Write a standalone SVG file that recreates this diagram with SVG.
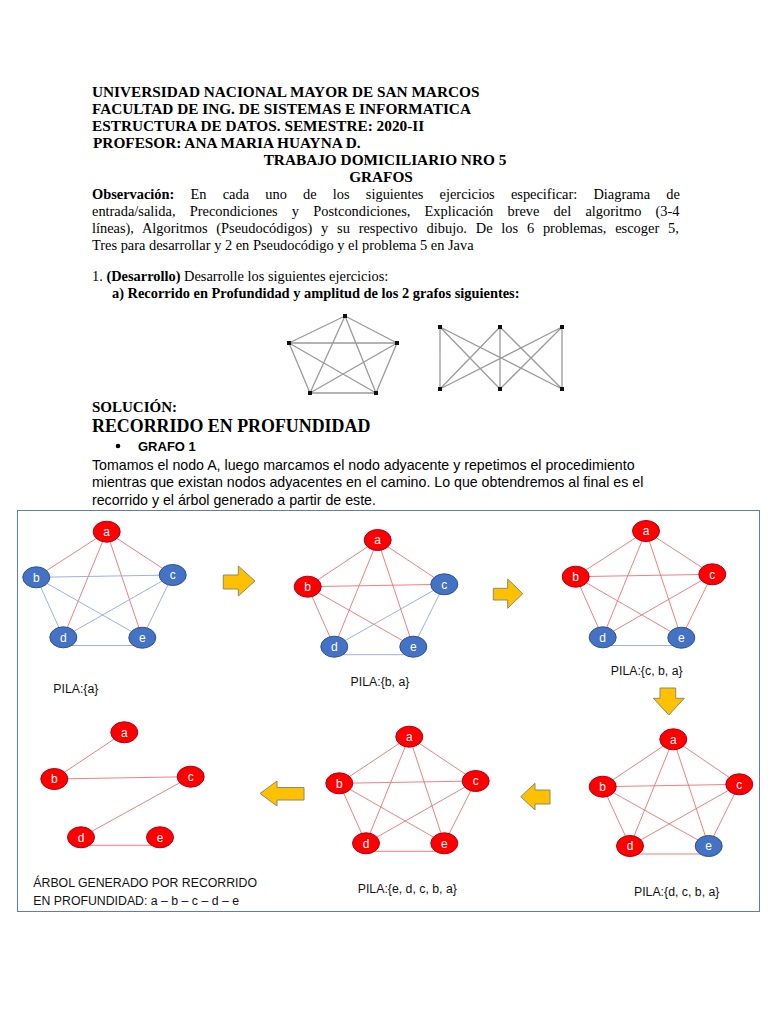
<svg xmlns="http://www.w3.org/2000/svg" width="768" height="1024" viewBox="0 0 768 1024">
<style>
.hd{font-family:"Liberation Serif","Times New Roman",serif;font-weight:bold;font-size:15.3px;fill:#000}
.tx{font-family:"Liberation Serif","Times New Roman",serif;font-size:14.4px;fill:#000}
.sans{font-family:"Liberation Sans",Arial,sans-serif;fill:#000}
.cap{font-family:"Liberation Sans",Arial,sans-serif;font-size:12.3px;fill:#111}
.nr{fill:#ff0000;stroke:#b00018;stroke-width:1}
.nb{fill:#4472c4;stroke:#2f528f;stroke-width:1}
.lbl{font-family:"Liberation Sans",Arial,sans-serif;font-size:12px;fill:#fff;text-anchor:middle}
.er{stroke:#f07070;stroke-width:0.9;fill:none}
.eb{stroke:#8eaadb;stroke-width:0.9;fill:none}
.gs{stroke:#9a9a9a;stroke-width:1.3;fill:none}
.arr{fill:#ffc000;stroke:#8a8a70;stroke-width:1}
</style>
<rect width="768" height="1024" fill="#fff"/>
<!-- header -->
<text class="hd" x="92" y="97">UNIVERSIDAD NACIONAL MAYOR DE SAN MARCOS</text>
<text class="hd" x="92" y="114">FACULTAD DE ING. DE SISTEMAS E INFORMATICA</text>
<text class="hd" x="92" y="131">ESTRUCTURA DE DATOS. SEMESTRE: 2020-II</text>
<text class="hd" x="93" y="148">PROFESOR: ANA MARIA HUAYNA D.</text>
<text class="hd" x="385" y="165" text-anchor="middle">TRABAJO DOMICILIARIO NRO 5</text>
<text class="hd" x="381" y="182" text-anchor="middle">GRAFOS</text>
<text class="tx" x="92" y="199" word-spacing="12.6"><tspan font-weight="bold">Observación:</tspan> En cada uno de los siguientes ejercicios especificar: Diagrama de</text>
<text class="tx" x="92" y="216" word-spacing="10.6">entrada/salida, Precondiciones y Postcondiciones, Explicación breve del algoritmo (3-4</text>
<text class="tx" x="92" y="233" word-spacing="5.2">líneas), Algoritmos (Pseudocódigos) y su respectivo dibujo. De los 6 problemas, escoger 5,</text>
<text class="tx" x="92" y="250">Tres para desarrollar y  2 en Pseudocódigo y el problema 5 en Java</text>
<text class="tx" x="92" y="281">1. <tspan font-weight="bold">(Desarrollo)</tspan> Desarrolle los siguientes ejercicios:</text>
<text class="tx" x="112" y="298" font-weight="bold">a) Recorrido en Profundidad y amplitud de los 2 grafos siguientes:</text>
<!-- small graphs -->
<g id="pentagon">
<path class="gs" d="M345,316L289,343M345,316L397,343M345,316L310,393M345,316L376,393M289,343L397,343M289,343L310,393M289,343L376,393M397,343L310,393M397,343L376,393M310,393L376,393"/>
<g fill="#111"><rect x="343" y="314" width="4" height="4"/><rect x="287" y="341" width="4" height="4"/><rect x="395" y="341" width="4" height="4"/><rect x="308" y="391" width="4" height="4"/><rect x="374" y="391" width="4" height="4"/></g>
</g>
<g id="bipartite">
<path class="gs" d="M440,327L440,389M440,327L500,389M440,327L562,389M500,327L440,389M500,327L500,389M500,327L562,389M562,327L440,389M562,327L500,389M562,327L562,389"/>
<g fill="#111"><rect x="438" y="325" width="4" height="4"/><rect x="498" y="325" width="4" height="4"/><rect x="560" y="325" width="4" height="4"/><rect x="438" y="387" width="4" height="4"/><rect x="498" y="387" width="4" height="4"/><rect x="560" y="387" width="4" height="4"/></g>
</g>
<text class="tx" x="92" y="412" font-weight="bold" style="font-size:15px">SOLUCIÓN:</text>
<text class="tx" x="92" y="432" font-weight="bold" style="font-size:17.9px">RECORRIDO EN PROFUNDIDAD</text>
<circle cx="118" cy="446" r="2.3" fill="#000"/>
<text class="sans" x="138" y="451" font-size="13" font-weight="bold">GRAFO 1</text>
<text class="sans" x="92" y="470" font-size="14.2">Tomamos el nodo A, luego marcamos el nodo adyacente y repetimos el procedimiento</text>
<text class="sans" x="92" y="487" font-size="14.2">mientras que existan nodos adyacentes en el camino. Lo que obtendremos al final es el</text>
<text class="sans" x="92" y="505" font-size="14.2">recorrido y el árbol generado a partir de este.</text>
<!-- frame -->
<rect x="17.5" y="510.5" width="742" height="401" fill="none" stroke="#5a7dbb" stroke-width="1"/>
<!-- connectors -->
<g id="connectors">
<g id="p1-edges">
<line class="er" x1="106.7" y1="531.7" x2="36.3" y2="577.3"/>
<line class="er" x1="106.7" y1="531.7" x2="172.7" y2="575"/>
<line class="er" x1="106.7" y1="531.7" x2="63.3" y2="637.3"/>
<line class="er" x1="106.7" y1="531.7" x2="142.3" y2="637.7"/>
<line class="eb" x1="36.3" y1="577.3" x2="172.7" y2="575"/>
<line class="eb" x1="36.3" y1="577.3" x2="63.3" y2="637.3"/>
<line class="eb" x1="36.3" y1="577.3" x2="142.3" y2="637.7"/>
<line class="eb" x1="172.7" y1="575" x2="63.3" y2="637.3"/>
<line class="eb" x1="172.7" y1="575" x2="142.3" y2="637.7"/>
<line class="eb" x1="69.3" y1="645.5" x2="136.3" y2="645.5"/>
</g>
<g id="p2-edges">
<line class="er" x1="377.7" y1="540" x2="307.7" y2="586.7"/>
<line class="er" x1="377.7" y1="540" x2="444.3" y2="584.3"/>
<line class="er" x1="377.7" y1="540" x2="334.3" y2="646.7"/>
<line class="er" x1="377.7" y1="540" x2="413.3" y2="646.7"/>
<line class="er" x1="307.7" y1="586.7" x2="444.3" y2="584.3"/>
<line class="er" x1="307.7" y1="586.7" x2="334.3" y2="646.7"/>
<line class="er" x1="307.7" y1="586.7" x2="413.3" y2="646.7"/>
<line class="eb" x1="444.3" y1="584.3" x2="334.3" y2="646.7"/>
<line class="eb" x1="444.3" y1="584.3" x2="413.3" y2="646.7"/>
<line class="eb" x1="340.3" y1="654.7" x2="407.3" y2="654.7"/>
</g>
<g id="p3-edges">
<line class="er" x1="646" y1="531" x2="575.7" y2="576.7"/>
<line class="er" x1="646" y1="531" x2="712.3" y2="574.3"/>
<line class="er" x1="646" y1="531" x2="602.7" y2="637.3"/>
<line class="er" x1="646" y1="531" x2="681.3" y2="637.7"/>
<line class="er" x1="575.7" y1="576.7" x2="712.3" y2="574.3"/>
<line class="er" x1="575.7" y1="576.7" x2="602.7" y2="637.3"/>
<line class="er" x1="575.7" y1="576.7" x2="681.3" y2="637.7"/>
<line class="er" x1="712.3" y1="574.3" x2="602.7" y2="637.3"/>
<line class="er" x1="712.3" y1="574.3" x2="681.3" y2="637.7"/>
<line class="eb" x1="608.7" y1="645.5" x2="675.3" y2="645.5"/>
</g>
<g id="p4-edges">
<line class="er" x1="673.3" y1="739.3" x2="602.7" y2="786.7"/>
<line class="er" x1="673.3" y1="739.3" x2="739.3" y2="784.3"/>
<line class="er" x1="673.3" y1="739.3" x2="630" y2="846"/>
<line class="er" x1="673.3" y1="739.3" x2="708.7" y2="846"/>
<line class="er" x1="602.7" y1="786.7" x2="739.3" y2="784.3"/>
<line class="er" x1="602.7" y1="786.7" x2="630" y2="846"/>
<line class="er" x1="602.7" y1="786.7" x2="708.7" y2="846"/>
<line class="er" x1="739.3" y1="784.3" x2="630" y2="846"/>
<line class="er" x1="739.3" y1="784.3" x2="708.7" y2="846"/>
<line class="er" x1="636" y1="854" x2="702.7" y2="854"/>
</g>
<g id="p5-edges">
<line class="er" x1="409.3" y1="736.7" x2="339.3" y2="783.3"/>
<line class="er" x1="409.3" y1="736.7" x2="475.7" y2="781"/>
<line class="er" x1="409.3" y1="736.7" x2="366" y2="843.3"/>
<line class="er" x1="409.3" y1="736.7" x2="444.3" y2="843.3"/>
<line class="er" x1="339.3" y1="783.3" x2="475.7" y2="781"/>
<line class="er" x1="339.3" y1="783.3" x2="366" y2="843.3"/>
<line class="er" x1="339.3" y1="783.3" x2="444.3" y2="843.3"/>
<line class="er" x1="475.7" y1="781" x2="366" y2="843.3"/>
<line class="er" x1="475.7" y1="781" x2="444.3" y2="843.3"/>
<line class="er" x1="372" y1="851.3" x2="438.3" y2="851.3"/>
</g>
<g id="p6-edges">
<line class="er" x1="124.3" y1="732.3" x2="54.3" y2="779"/>
<line class="er" x1="54.3" y1="779" x2="190.7" y2="776.7"/>
<line class="er" x1="190.7" y1="776.7" x2="81" y2="837.3"/>
<line class="er" x1="87" y1="845.3" x2="154" y2="845.3"/>
</g>
<g id="step-arrows">
<polygon class="arr" points="223.3,575 238.3,575 238.3,566 255,581 238.3,596 238.3,589 223.3,589"/>
<polygon class="arr" points="493.3,588.3 507.7,588.3 507.7,579 522.7,593.7 507.7,608.3 507.7,600 493.3,600"/>
<polygon class="arr" points="660,688 675.7,688 675.7,698.3 684.3,698.3 668.8,715 653.3,698.3 660,698.3"/>
<polygon class="arr" points="550,790 535,790 535,783.3 520.7,796.7 535,810 535,804 550,804"/>
<polygon class="arr" points="304,787.5 277,787.5 277,781 260,793.5 277,806 277,800 304,800"/>
</g>
</g>
<!-- panel 1 -->
<g id="p1-a"><ellipse class="nr" cx="106.7" cy="531.7" rx="13.5" ry="10.5"/><text class="lbl" x="106.7" y="536">a</text></g>
<g id="p1-b"><ellipse class="nb" cx="36.3" cy="577.3" rx="13.5" ry="10.5"/><text class="lbl" x="36.3" y="581.6">b</text></g>
<g id="p1-c"><ellipse class="nb" cx="172.7" cy="575" rx="13.5" ry="10.5"/><text class="lbl" x="172.7" y="579.3">c</text></g>
<g id="p1-d"><ellipse class="nb" cx="63.3" cy="637.3" rx="13.5" ry="10.5"/><text class="lbl" x="63.3" y="641.6">d</text></g>
<g id="p1-e"><ellipse class="nb" cx="142.3" cy="637.7" rx="13.5" ry="10.5"/><text class="lbl" x="142.3" y="642">e</text></g>
<text class="cap" x="53.3" y="693">PILA:{a}</text>
<!-- panel 2 -->
<g id="p2-a"><ellipse class="nr" cx="377.7" cy="540" rx="13.5" ry="10.5"/><text class="lbl" x="377.7" y="544.3">a</text></g>
<g id="p2-b"><ellipse class="nr" cx="307.7" cy="586.7" rx="13.5" ry="10.5"/><text class="lbl" x="307.7" y="591">b</text></g>
<g id="p2-c"><ellipse class="nb" cx="444.3" cy="584.3" rx="13.5" ry="10.5"/><text class="lbl" x="444.3" y="588.6">c</text></g>
<g id="p2-d"><ellipse class="nb" cx="334.3" cy="646.7" rx="13.5" ry="10.5"/><text class="lbl" x="334.3" y="651">d</text></g>
<g id="p2-e"><ellipse class="nb" cx="413.3" cy="646.7" rx="13.5" ry="10.5"/><text class="lbl" x="413.3" y="651">e</text></g>
<text class="cap" x="380" y="686" text-anchor="middle">PILA:{b, a}</text>
<!-- panel 3 -->
<g id="p3-a"><ellipse class="nr" cx="646" cy="531" rx="13.5" ry="10.5"/><text class="lbl" x="646" y="535.3">a</text></g>
<g id="p3-b"><ellipse class="nr" cx="575.7" cy="576.7" rx="13.5" ry="10.5"/><text class="lbl" x="575.7" y="581">b</text></g>
<g id="p3-c"><ellipse class="nr" cx="712.3" cy="574.3" rx="13.5" ry="10.5"/><text class="lbl" x="712.3" y="578.6">c</text></g>
<g id="p3-d"><ellipse class="nb" cx="602.7" cy="637.3" rx="13.5" ry="10.5"/><text class="lbl" x="602.7" y="641.6">d</text></g>
<g id="p3-e"><ellipse class="nb" cx="681.3" cy="637.7" rx="13.5" ry="10.5"/><text class="lbl" x="681.3" y="642">e</text></g>
<text class="cap" x="646.7" y="675" text-anchor="middle">PILA:{c, b, a}</text>
<!-- panel 4 -->
<g id="p4-a"><ellipse class="nr" cx="673.3" cy="739.3" rx="13.5" ry="10.5"/><text class="lbl" x="673.3" y="743.6">a</text></g>
<g id="p4-b"><ellipse class="nr" cx="602.7" cy="786.7" rx="13.5" ry="10.5"/><text class="lbl" x="602.7" y="791">b</text></g>
<g id="p4-c"><ellipse class="nr" cx="739.3" cy="784.3" rx="13.5" ry="10.5"/><text class="lbl" x="739.3" y="788.6">c</text></g>
<g id="p4-d"><ellipse class="nr" cx="630" cy="846" rx="13.5" ry="10.5"/><text class="lbl" x="630" y="850.3">d</text></g>
<g id="p4-e"><ellipse class="nb" cx="708.7" cy="846" rx="13.5" ry="10.5"/><text class="lbl" x="708.7" y="850.3">e</text></g>
<text class="cap" x="676.7" y="896" text-anchor="middle">PILA:{d, c, b, a}</text>
<!-- panel 5 -->
<g id="p5-a"><ellipse class="nr" cx="409.3" cy="736.7" rx="13.5" ry="10.5"/><text class="lbl" x="409.3" y="741">a</text></g>
<g id="p5-b"><ellipse class="nr" cx="339.3" cy="783.3" rx="13.5" ry="10.5"/><text class="lbl" x="339.3" y="787.6">b</text></g>
<g id="p5-c"><ellipse class="nr" cx="475.7" cy="781" rx="13.5" ry="10.5"/><text class="lbl" x="475.7" y="785.3">c</text></g>
<g id="p5-d"><ellipse class="nr" cx="366" cy="843.3" rx="13.5" ry="10.5"/><text class="lbl" x="366" y="847.6">d</text></g>
<g id="p5-e"><ellipse class="nr" cx="444.3" cy="843.3" rx="13.5" ry="10.5"/><text class="lbl" x="444.3" y="847.6">e</text></g>
<text class="cap" x="407.3" y="893" text-anchor="middle">PILA:{e, d, c, b, a}</text>
<!-- panel 6 -->
<g id="p6-a"><ellipse class="nr" cx="124.3" cy="732.3" rx="13.5" ry="10.5"/><text class="lbl" x="124.3" y="736.6">a</text></g>
<g id="p6-b"><ellipse class="nr" cx="54.3" cy="779" rx="13.5" ry="10.5"/><text class="lbl" x="54.3" y="783.3">b</text></g>
<g id="p6-c"><ellipse class="nr" cx="190.7" cy="776.7" rx="13.5" ry="10.5"/><text class="lbl" x="190.7" y="781">c</text></g>
<g id="p6-d"><ellipse class="nr" cx="81" cy="837.3" rx="13.5" ry="10.5"/><text class="lbl" x="81" y="841.6">d</text></g>
<g id="p6-e"><ellipse class="nr" cx="160" cy="837.3" rx="13.5" ry="10.5"/><text class="lbl" x="160" y="841.6">e</text></g>
<text class="cap" x="33.3" y="887">ÁRBOL GENERADO POR RECORRIDO</text>
<text class="cap" x="33.3" y="905">EN PROFUNDIDAD: a – b – c – d – e</text>
</svg>
